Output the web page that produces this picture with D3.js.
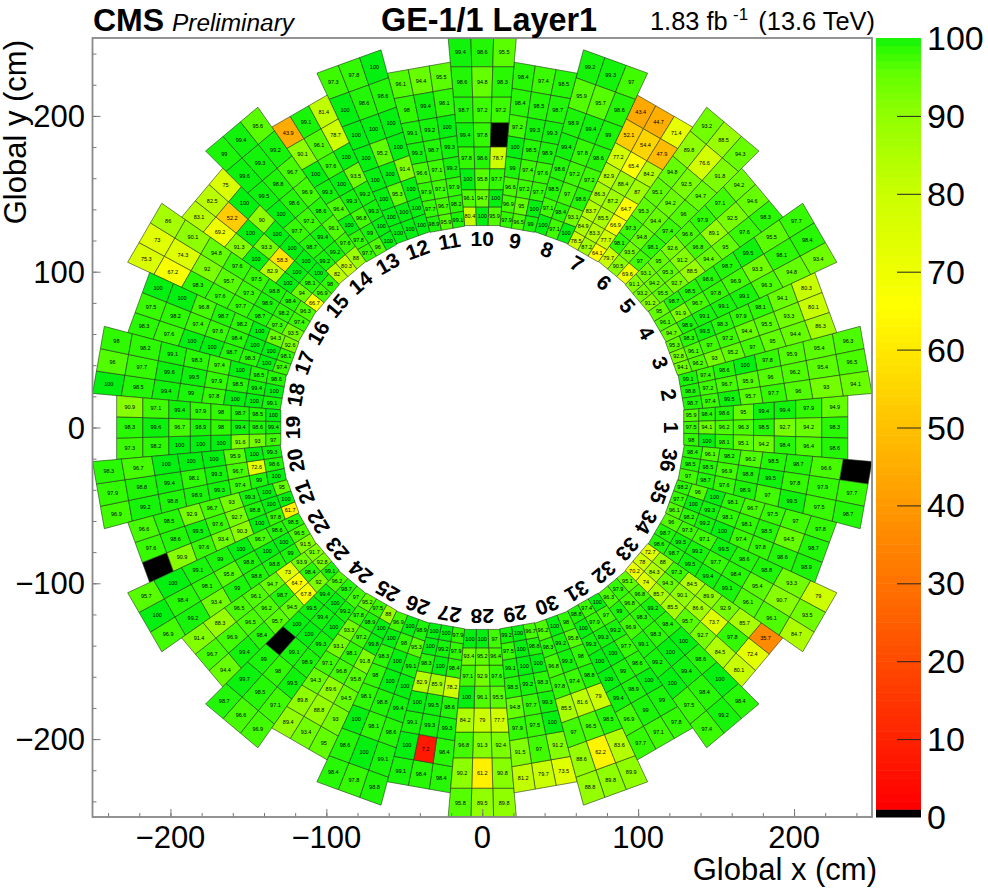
<!DOCTYPE html>
<html><head><meta charset="utf-8">
<script src="https://cdn.jsdelivr.net/npm/d3@7"></script>
<style>html,body{margin:0;background:#fff}svg{display:block}text{font-family:"Liberation Sans",Arial,sans-serif;fill:#000}</style>
</head><body><svg id="c" width="988" height="896"></svg>
<script>
// Efficiency per chamber: eight rows, outermost first; each row three VFATs, clockwise.
const ch01=[94.9,98.3,98.6,97.9,94.2,96.4,99.4,92.7,98.4,99.4,98.5,94.2,95,96.3,95.1,98.6,96.2,98.1,98.4,94.1,100,95.9,97.5,98];
const ch02=[96.3,96.5,94.1,95.4,95.4,93,95.9,96.2,96,97.8,96,97.7,100,95.9,95.7,98.6,96.7,99.5,97.4,97.2,97.4,99.1,98.8,98.7];
const ch03=[80.3,80.1,86.3,94.1,93.3,94.4,98.1,95.5,95,97.9,94.4,97,98.3,97.2,95.2,99.5,97,93,98.3,96.1,96.2,95.3,92.8,94.1];
const ch04=[97.7,98.4,93.4,95.5,98.1,94.8,99.5,93.3,96.3,98.7,96.9,99.1,98.6,97.8,99.1,98.5,96.7,99.1,98.7,91.9,98.9,95,96.1,94.7];
const ch05=[94.2,94.6,98.3,97.1,92.5,97.6,97.9,89.1,95,96.6,96.8,94.4,92.6,91.2,88.5,95,95.3,92.7,93.1,94.2,95.5,91.1,93.2,91.2];
const ch06=[93.2,88.5,94.3,89.8,76.6,91.8,94.8,92.5,94.7,95.1,94.2,96,95.3,94.4,97.4,97.3,94.8,98.1,98.1,93.5,97,79.7,90.5,69.6];
const ch07=[43.4,44.7,71.4,52.1,54.4,47.9,77.2,65.4,84.2,82.9,88.4,87,86.3,87.2,64.7,83.7,85.5,66.9,84.9,83.3,77.7,78.5,87.2,64.1];
const ch08=[99.2,99.3,97,95.9,95.7,98.6,98.9,99.4,99,99.4,97.8,98.6,98.6,97.2,97.2,98.5,97,98.6,97.1,98.4,93.1,100,97.1,100];
const ch09=[98.4,97.4,98.5,98.4,98.5,98.7,97.2,99.3,99.3,100,98.5,98.9,99,97.4,97.6,96.6,97.2,97.7,96.9,95,100,97.9,96.5,99];
const ch10=[99.4,98.6,95.5,98.6,94.8,98.3,98.7,97.2,97.2,99.4,97.8,0,97.8,98.6,78.7,100,95.8,97.7,96.1,94.7,100,80.4,100,95.9];
const ch11=[96.1,94.4,95.5,98,99.4,98.1,99.1,99.2,100,99.3,98.7,99.3,96.6,97.1,99.2,97.9,97.1,97.9,97.7,96.7,98.2,98.9,95.9,99.1];
const ch12=[97.3,97.8,100,100,98.6,98.6,100,100,100,100,95.2,100,100,100,91.4,100,95.3,100,100,100,100,100,100,100];
const ch13=[43.9,99.1,81.4,90.1,96.1,78.7,100,97.6,100,99.3,100,93.5,96.4,99.3,99.2,100,96.8,99.3,97.8,99,100,97.7,96,100];
const ch14=[99,99.4,95.6,99.6,99.3,99.2,99.5,98.8,96.7,100,98.6,96.9,97.7,97.2,98.6,98.7,99.4,96.1,99.2,99.2,97.6,82,80.3,88];
const ch15=[83.1,82.5,75,69.2,52.2,100,91.3,100,90,100,93.3,100,82.9,58.3,100,100,100,100,94,98.1,100,66.7,96.9,98];
const ch16=[75.3,73,86,67.2,74.3,90.1,98.3,92,94.8,97.6,95.7,97.6,97.7,97.3,97.5,98.7,98.9,98.8,97.3,98.2,98.4,93.5,97.4,96.3];
const ch17=[98.3,97.5,100,97.6,98.2,100,100,97.4,96.8,100,97.6,98.7,98.7,98.4,98.2,98.3,100,100,100,100,94.3,97.4,98.1,92.6];
const ch18=[100,96,98,98.5,97.7,98.2,99.4,99.6,99.1,99,99.5,98.3,97.8,97.9,97.4,100,98.5,100,100,99.4,98.5,99.1,100,98.6];
const ch19=[97.3,98.3,90.9,98.2,99.6,97.1,100,96.7,99.4,100,98.9,97.9,100,98,98,91.6,99.4,98.7,93,98.6,98.5,97,99.4,100];
const ch20=[96.9,97.9,98.3,99.2,98.8,96.7,98.8,99.4,100,98.9,98.1,100,99.3,99.3,100,97.4,96.7,95.9,99,72.6,100,100,98.6,99.3];
const ch21=[0,97.6,96.6,90.9,98.6,98.5,97.6,99.5,92.9,93.4,97.6,96.7,90.3,92.7,93,100,98.8,99.3,97.8,100,100,61.7,100,95];
const ch22=[96.9,100,95.7,99.2,98.4,100,93.4,98.1,99.1,99,95.8,99,98.8,98.8,100,98.8,100,96.7,99,100,98.6,91.5,96.5,98.5];
const ch23=[94.4,96.7,91.4,99.4,96.9,88.3,98.4,96.5,96.5,95.7,96.2,96.1,94.5,98.7,94.7,67.8,64.7,73,92,98.4,93.9,99.1,92.8,91.7];
const ch24=[96.9,96.6,98.7,97.1,98.5,99.7,99.5,98,99,98.9,99.1,0,99.3,100,100,100,99.4,99.5,99.2,100,99.4,97,98.7,96.2];
const ch25=[95,93.4,89.4,93,88.8,89.8,94.5,89.6,94.3,95.8,96.8,97.1,91.8,98.1,93.1,99.8,97.2,93.3,100,98.9,97.8,88,97.5,95.2];
const ch26=[98.8,97.8,98.4,99.1,100,98.6,98.6,98.1,100,99.4,98.8,98.1,100,100,98,99.1,100,98.3,95.3,98,100,98.9,100,96.9];
const ch27=[98.4,98.4,99.1,98.4,7.2,100,99.3,99.3,99.1,98.6,99.5,100,78.2,85.9,82.9,98.4,100,98.3,97.9,99.2,100,97.9,100,100];
const ch28=[89.8,89.5,95.8,90.8,61.2,90.2,92.4,91.3,96.8,77.7,79,84.2,95.5,96.1,100,97.6,92.9,97.1,96.4,95.2,93.4,97,100,100];
const ch29=[73.5,79.7,81.2,91.2,97,91.5,100,97.5,97.9,99.3,97.7,94.8,98.3,99.2,98.5,100,100,99.1,98.8,100,97.5,96.7,100,99.2];
const ch30=[89.9,89.8,88.8,83.6,62.2,88.6,98.5,96.5,97,79,81.6,85.5,98.8,97.4,97.8,98,99.3,96.8,95.8,99.2,98.3,98,100,96.2];
const ch31=[97.8,97.1,97.7,99,99,96.9,100,98.9,99.4,98.6,99,100,97.7,100,100,99.2,99.3,99.3,97,97.9,100,100,97.4,98.8];
const ch32=[98.4,99.2,97.4,100,98.4,97.5,98.6,99.4,100,100,100,99.2,98.4,98.3,99.1,99.2,98.3,96.9,96.8,96.8,99,95.1,97.9,96.3];
const ch33=[35.7,72.4,80.1,85.7,97.8,84.5,92.9,73.7,92.7,89.9,86.6,95.7,84.5,90.1,85.5,97.3,94.3,85.7,88,84.3,74,72.7,78,70.2];
const ch34=[79,93.5,84.7,93.3,90.7,96.1,98.8,95.4,96.1,98.6,98.4,99.1,99.5,97.7,99.4,97.1,99.2,99.5,97.3,99.5,98.7,96,98.7,98.6];
const ch35=[97.8,98.7,98.9,97,94.5,98.6,97.5,98.5,97.8,96.7,98.1,97.4,98.1,98.1,100,100,99.3,99.2,96,100,98.2,98.2,97.7,96.1];
const ch36=[0,97.7,98.7,96.6,97.9,97.5,98.7,97.8,99.5,98.5,99.5,97,96.2,98.8,98.9,98.2,96.9,97.6,96.1,98.5,98.7,98.4,98.5,97];
const chambers=[ch01,ch02,ch03,ch04,ch05,ch06,ch07,ch08,ch09,ch10,ch11,ch12,ch13,ch14,ch15,ch16,ch17,ch18,ch19,ch20,ch21,ch22,ch23,ch24,ch25,ch26,ch27,ch28,ch29,ch30,ch31,ch32,ch33,ch34,ch35,ch36];
// Radial row edges (cm), outermost first
const longEdges=[250,231.5,212,195.5,180,166,152.5,141.4,129.6];
const shortEdges=[234.5,217.7,201,187.2,174,161,149.4,138.8,129.2];
const xMajor=[-200,-100,0,100,200];
const yMajor=[-200,-100,0,100,200];
const zTicks=[0,10,20,30,40,50,60,70,80,90,100];

const svg=d3.select("#c");
const x=d3.scaleLinear().domain([-250,250]).range([92.5,872]);
const y=d3.scaleLinear().domain([-250,250]).range([817,38]);
const z=d3.scaleLinear().domain([0,100]).range([817,38]);
const color=d3.scaleLinear()
  .domain([1,65,80,90,95,98,100])
  .range(["#ff0000","#ffff00","#c8ff00","#8eff00","#62ff00","#30fa00","#04f010"]);
const fill=v=>v<1?"#000":color(v);

svg.append("defs").append("clipPath").attr("id","plot").append("rect")
  .attr("x",x(-250)).attr("y",y(250)).attr("width",x(250)-x(-250)).attr("height",y(-250)-y(250));

const tanHalf=Math.tan(5*Math.PI/180);
const f=[1,1/3,-1/3,-1];
const cells=[];
chambers.forEach((vals,i)=>{
  const a=i*10*Math.PI/180, edges=(i+1)%2===0?longEdges:shortEdges;
  const P=(u,k)=>{const v=k*u*tanHalf;return [u*Math.cos(a)-v*Math.sin(a),u*Math.sin(a)+v*Math.cos(a)];};
  vals.forEach((v,j)=>{
    const row=Math.floor(j/3),col=j%3,o=edges[row],n=edges[row+1];
    const pts=[P(o,f[col]),P(o,f[col+1]),P(n,f[col+1]),P(n,f[col])];
    cells.push({v,pts,cx:d3.mean(pts,p=>p[0]),cy:d3.mean(pts,p=>p[1])});
  });
});
const plot=svg.append("g").attr("clip-path","url(#plot)");
plot.selectAll("polygon").data(cells).join("polygon")
  .attr("points",d=>d.pts.map(p=>[x(p[0]),y(p[1])].join(",")).join(" "))
  .attr("fill",d=>fill(d.v)).attr("stroke","#24381a").attr("stroke-width",0.6);
plot.selectAll("text").data(cells.filter(d=>d.v>0)).join("text")
  .attr("x",d=>x(d.cx)).attr("y",d=>y(d.cy)).attr("dy","0.35em")
  .attr("text-anchor","middle").attr("font-size",5.5).text(d=>d.v);

// Chamber numbers
svg.append("g").selectAll("text").data(chambers.map((_,i)=>i+1)).join("text")
  .attr("text-anchor","middle").attr("dy","0.36em").attr("font-size",21).attr("font-weight","bold")
  .attr("transform",d=>{const a=(d-1)*10,r=121.6,t=a*Math.PI/180;
    return `translate(${x(r*Math.cos(t))},${y(r*Math.sin(t))}) rotate(${90-a})`;})
  .text(d=>d);

// Axes
const styleAxis=g=>{g.select(".domain").remove();g.selectAll("line").attr("stroke","#777").attr("stroke-width",1);};
const minor=d3.range(-240,241,20);
svg.append("g").attr("transform",`translate(0,${y(-250)})`).call(d3.axisTop(x).tickValues(minor).tickSize(4).tickFormat("")).call(styleAxis);
svg.append("g").attr("transform",`translate(${x(-250)},0)`).call(d3.axisRight(y).tickValues(minor).tickSize(4).tickFormat("")).call(styleAxis);
svg.append("g").attr("transform",`translate(0,${y(-250)})`).call(d3.axisTop(x).tickValues(xMajor).tickSize(8).tickFormat("")).call(styleAxis);
svg.append("g").attr("transform",`translate(${x(-250)},0)`).call(d3.axisRight(y).tickValues(yMajor).tickSize(8).tickFormat("")).call(styleAxis);
svg.append("rect").attr("x",x(-250)).attr("y",y(250)).attr("width",x(250)-x(-250)).attr("height",y(-250)-y(250))
  .attr("fill","none").attr("stroke","#888").attr("stroke-width",1.8);

const fmt=d3.format("d");
svg.append("g").selectAll("text").data(xMajor).join("text")
  .attr("x",d=>x(d)).attr("y",848).attr("text-anchor","middle").attr("font-size",31).text(fmt);
svg.append("g").selectAll("text").data(yMajor).join("text")
  .attr("x",85).attr("y",d=>y(d)+11).attr("text-anchor","end").attr("font-size",31).text(fmt);

svg.append("text").attr("x",877).attr("y",880).attr("text-anchor","end").attr("font-size",31).text("Global x (cm)");
svg.append("text").attr("transform","translate(26,40) rotate(-90)").attr("text-anchor","end").attr("font-size",31).text("Global y (cm)");

// Colour bar
const band=d3.range(0,100);
svg.append("g").selectAll("rect").data(band).join("rect")
  .attr("x",876).attr("width",45).attr("y",d=>z(d+1)).attr("height",d=>z(d)-z(d+1)+0.5)
  .attr("fill",d=>fill(d));
svg.append("g").attr("transform","translate(921,0)")
  .call(d3.axisLeft(z).tickValues(zTicks.slice(1,-1)).tickSize(24).tickFormat(""))
  .call(g=>{g.select(".domain").remove();g.selectAll("line").attr("stroke","#222").attr("stroke-width",1);});
svg.append("g").selectAll("text").data(zTicks).join("text")
  .attr("x",927).attr("y",d=>z(d)+12).attr("font-size",34).text(d=>d);

// Header
svg.append("text").attr("x",93).attr("y",31).attr("font-size",32).attr("font-weight","bold").text("CMS");
svg.append("text").attr("x",172).attr("y",31).attr("font-size",24.4).attr("font-style","italic").text("Preliminary");
svg.append("text").attr("x",381).attr("y",31).attr("font-size",32.4).attr("font-weight","bold").text("GE-1/1 Layer1");
svg.append("text").attr("x",650).attr("y",30).attr("font-size",25.4).text("1.83 fb");
svg.append("text").attr("x",733).attr("y",20).attr("font-size",17).text("-1");
svg.append("text").attr("x",875).attr("y",30).attr("text-anchor","end").attr("font-size",25.4).text("(13.6 TeV)");
</script></body></html>
